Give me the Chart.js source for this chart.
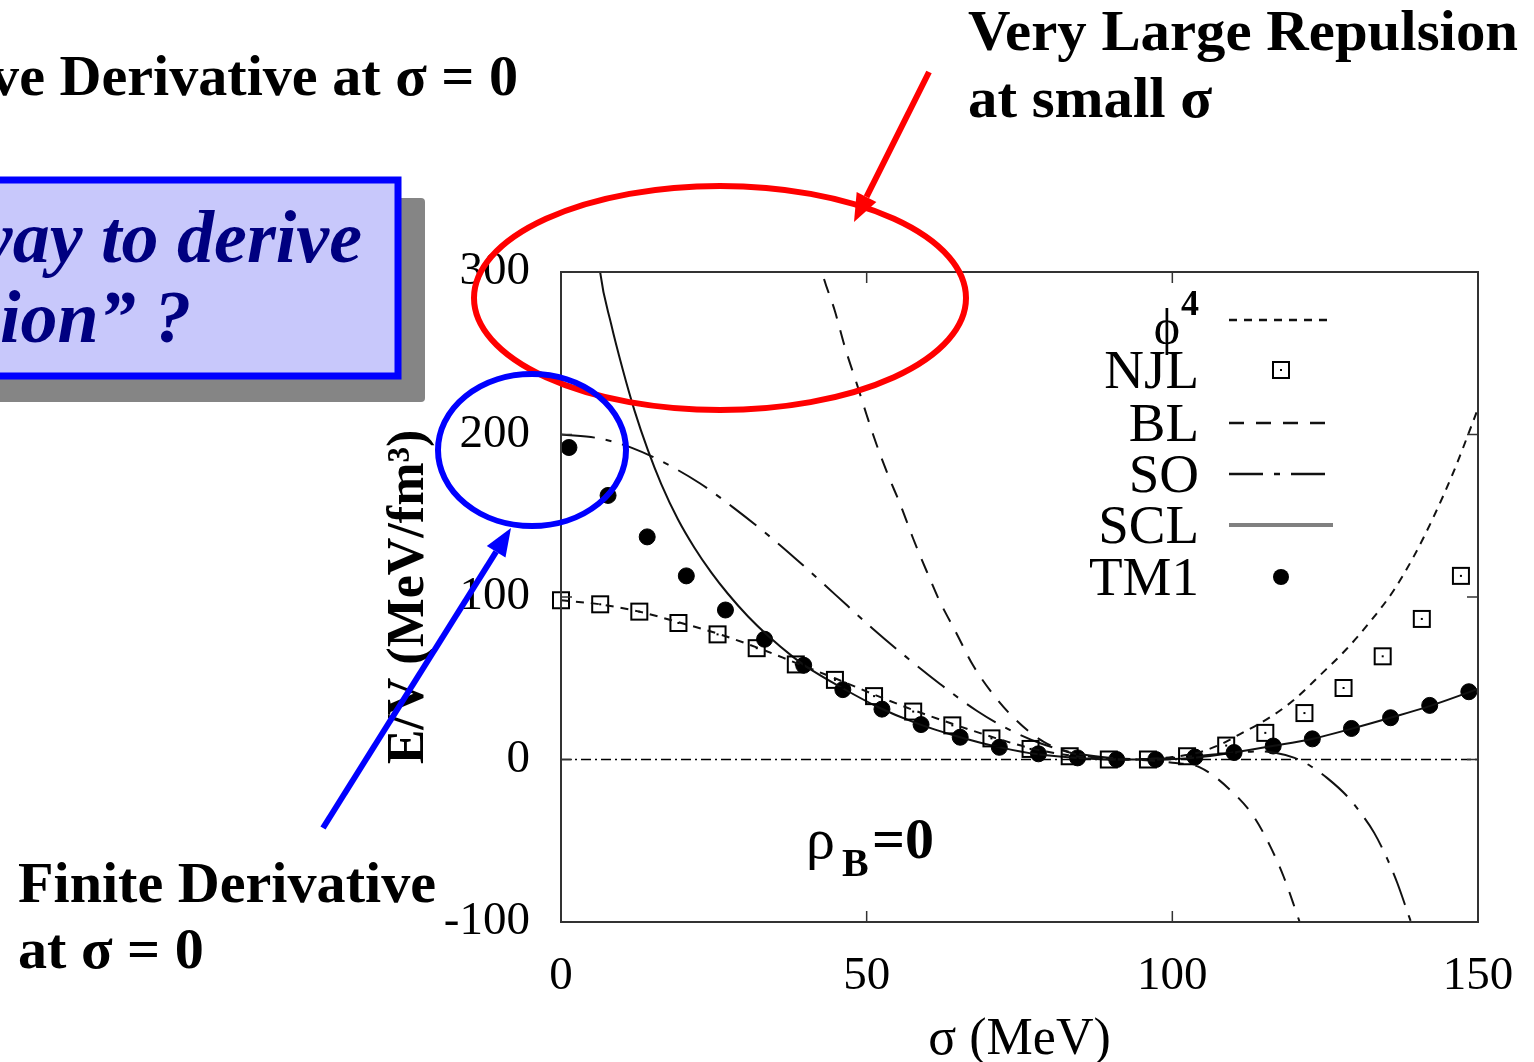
<!DOCTYPE html>
<html>
<head>
<meta charset="utf-8">
<script src="https://cdn.jsdelivr.net/npm/chart.js@4.4.1/dist/chart.umd.min.js"></script>
<style>
  html, body { margin: 0; padding: 0; background: #fff; overflow: hidden; }
  #wrap { width: 1534px; height: 1062px; position: relative; }
</style>
</head>
<body>
<div id="wrap"><canvas id="chart" width="1534" height="1062"></canvas></div>
<script>
// values: sigma in MeV, E/V in MeV/fm^3
const sigmaPhi4 = [0, 6.4, 12.8, 19.2, 25.6, 32, 38.4, 44.8, 51.2, 57.6, 64, 70.4, 76.8, 83.2, 89.6, 93, 96, 100, 104, 108, 111, 116, 120, 124.2, 128.5, 132.4, 136.2, 139.5, 142.7, 146, 149.3, 150];
const energyPhi4 = [98, 95.5, 91, 84.5, 77.5, 69, 59.5, 50, 40, 30.5, 22, 14, 7, 2.5, 0.3, 0, 0.3, 1.5, 4, 9.5, 15.5, 26, 37, 52, 68, 85, 104, 125, 149, 177, 209, 216];

const sigmaNJL = [0, 6.4, 12.8, 19.2, 25.6, 32, 38.4, 44.8, 51.2, 57.6, 64, 70.4, 76.8, 83.2, 89.6, 96, 102.4, 108.8, 115.2, 121.6, 128, 134.4, 140.8, 147.2];
const energyNJL = [98, 95.5, 91, 84, 77, 68.5, 58.5, 49, 39, 29.5, 21, 13, 6.5, 2, 0, 0, 2, 8.6, 16.4, 28.6, 44, 63.5, 86.5, 113];

const sigmaBL = [42, 42.7, 44.8, 46.5, 48.4, 50, 51.6, 53.5, 55.5, 57.6, 59.8, 62, 64.5, 67.4, 70.7, 74.5, 78.9, 84, 90, 95, 100, 104.5, 109.4, 113.3, 116, 118.2, 120.1, 121];
const energyBL = [312, 300, 276, 253, 231, 212, 194, 175, 157, 136, 116, 97, 79, 58, 40, 24, 11, 3.5, 0.5, -0.3, -2, -4.8, -18.5, -35, -53.3, -72, -92, -102];

const sigmaSO = [0, 6.4, 11.8, 16.2, 22.7, 28.2, 34.7, 39.6, 45, 51, 56.5, 62, 68, 73, 78.4, 84, 90, 95, 100, 105, 110, 114, 117, 120, 122.6, 125.3, 128.6, 130.8, 133, 135.2, 136.8, 138.7, 139.6];
const energySO = [200, 197.5, 191.5, 184, 170, 155, 135.5, 119.5, 101, 80.5, 63, 46.5, 30, 19, 10, 4, 1, 0.3, 1, 2.5, 4, 5, 4, 1, -4, -11.3, -22.6, -32.8, -45, -61.5, -76, -96.4, -106];

const sigmaSCL = [5.5, 6.4, 8.2, 10.1, 12, 14.2, 16.4, 19.1, 21.8, 24.6, 27.3, 30.6, 33.9, 38, 40, 46, 52, 58, 65, 72, 78, 85, 91, 97, 104, 110, 116.6, 123, 129.4, 135.8, 142.2, 148.6, 150];
const energySCL = [335, 300, 268, 240, 215, 190.5, 169.5, 148, 130.5, 115, 102, 88, 76, 63, 57.5, 44, 32, 22.5, 14, 7.3, 3.2, 0.8, 0, 0, 1.3, 4.3, 8.4, 12.8, 19, 25.8, 33, 41.5, 43.5];

const sigmaTM1 = [1.3, 7.7, 14.1, 20.5, 26.9, 33.3, 39.7, 46.1, 52.5, 58.9, 65.3, 71.7, 78.1, 84.5, 90.9, 97.3, 103.7, 110.1, 116.5, 122.9, 129.3, 135.7, 142.1, 148.5];
const energyTM1 = [192, 162.5, 137, 113, 92, 74, 58, 43, 31, 21.5, 13.7, 7.5, 3.5, 1, 0, 0, 1.5, 4.3, 8.3, 12.7, 19.1, 25.7, 33.3, 41.7];

const zeroLine = [{x: 0, y: 0}, {x: 150, y: 0}];
const xTicks = [0, 50, 100, 150];
const yTicks = [-100, 0, 100, 200, 300];
const seriesNames = ['ϕ', 'NJL', 'BL', 'SO', 'SCL', 'TM1'];

const pts = (xs, ys) => xs.map((x, i) => ({x: x, y: ys[i]}));

// NJL marker: open square with a dot in the middle
const squareMark = document.createElement('canvas');
squareMark.width = 20; squareMark.height = 20;
(function () {
  const c = squareMark.getContext('2d');
  c.strokeStyle = '#000'; c.lineWidth = 2;
  c.strokeRect(2, 2, 16, 16);
  c.fillStyle = '#000';
  c.fillRect(9, 9, 2, 2);
})();

const serif = '"Liberation Serif", "Times New Roman", serif';

function curve(label, data, dash) {
  return {
    label: label, data: data, borderColor: '#111', borderWidth: 2, borderDash: dash,
    pointRadius: 0, cubicInterpolationMode: 'monotone', fill: false
  };
}

const datasets = [
  curve('φ4', pts(sigmaPhi4, energyPhi4), [8, 7]),
  { label: 'NJL', data: pts(sigmaNJL, energyNJL), showLine: false, pointStyle: squareMark, pointRadius: 10, clip: false },
  curve('BL', pts(sigmaBL, energyBL), [15, 12]),
  curve('SO', pts(sigmaSO, energySO), [34, 11, 6, 11]),
  curve('SCL', pts(sigmaSCL, energySCL), []),
  { label: 'TM1', data: pts(sigmaTM1, energyTM1), showLine: false, pointStyle: 'circle', pointRadius: 8,
    backgroundColor: '#000', borderColor: '#000', clip: false },
  { label: 'zero', data: zeroLine, borderColor: '#000', borderWidth: 1.5, borderDash: [10, 4, 2, 4], pointRadius: 0 }
];

function fitText(ctx, text, x, y, font, width, align, sx) {
  ctx.font = font;
  const w = ctx.measureText(text).width;
  const s = sx || (width ? width / w : 1);
  ctx.save();
  ctx.translate(x, y);
  ctx.scale(s, 1);
  ctx.textAlign = align || 'left';
  ctx.textBaseline = 'alphabetic';
  ctx.fillText(text, 0, 0);
  ctx.restore();
  return s;
}

function arrow(ctx, x0, y0, x1, y1, color) {
  const a = Math.atan2(y1 - y0, x1 - x0);
  const hl = 28, hw = 11;
  const bx = x1 - hl * Math.cos(a), by = y1 - hl * Math.sin(a);
  ctx.strokeStyle = color; ctx.fillStyle = color; ctx.lineWidth = 6; ctx.lineCap = 'butt';
  ctx.beginPath(); ctx.moveTo(x0, y0); ctx.lineTo(bx, by); ctx.stroke();
  ctx.beginPath();
  ctx.moveTo(x1, y1);
  ctx.lineTo(bx + hw * Math.sin(a), by - hw * Math.cos(a));
  ctx.lineTo(bx - hw * Math.sin(a), by + hw * Math.cos(a));
  ctx.closePath(); ctx.fill();
}

const framePlugin = {
  id: 'frame',
  afterDatasetsDraw(chart) {
    const {ctx, chartArea: a, scales: {x, y}} = chart;
    ctx.save();
    ctx.strokeStyle = '#333'; ctx.lineWidth = 2; ctx.setLineDash([]);
    ctx.strokeRect(a.left, a.top, a.right - a.left, a.bottom - a.top);
    ctx.lineWidth = 1.5;
    ctx.beginPath();
    xTicks.forEach(v => {
      const px = x.getPixelForValue(v);
      ctx.moveTo(px, a.bottom); ctx.lineTo(px, a.bottom - 11);
      ctx.moveTo(px, a.top); ctx.lineTo(px, a.top + 11);
    });
    yTicks.forEach(v => {
      const py = y.getPixelForValue(v);
      ctx.moveTo(a.left, py); ctx.lineTo(a.left + 11, py);
      ctx.moveTo(a.right, py); ctx.lineTo(a.right - 11, py);
    });
    ctx.stroke();

    // key, right-aligned labels with samples to the right
    const ds = chart.data.datasets;
    const rows = [320, 370, 423, 474, 525, 577];
    ctx.fillStyle = '#000';
    ctx.font = '55px ' + serif;
    ctx.textAlign = 'right'; ctx.textBaseline = 'alphabetic';
    seriesNames.forEach((name, i) => {
      const yy = rows[i];
      if (i === 0) {
        ctx.font = '50px ' + serif;
        ctx.fillText(name, 1180, yy + 24);
        ctx.font = 'bold 36px ' + serif;
        ctx.fillText('4', 1199, yy - 5);
        ctx.font = '55px ' + serif;
      } else {
        ctx.fillText(name, 1199, yy + 18);
      }
      const d = ds[i];
      if (d.showLine === false) {
        if (d.pointStyle === 'circle') {
          ctx.beginPath(); ctx.arc(1281, yy, 8, 0, Math.PI * 2); ctx.fill();
        } else {
          ctx.drawImage(squareMark, 1271, yy - 10);
        }
      } else {
        ctx.save();
        ctx.strokeStyle = name === 'SCL' ? '#808080' : '#111';
        ctx.lineWidth = name === 'SCL' ? 4 : 2.5;
        ctx.setLineDash(d.borderDash);
        ctx.beginPath(); ctx.moveTo(1229, yy); ctx.lineTo(1333, yy); ctx.stroke();
        ctx.restore();
      }
    });

    // rho_B = 0 label inside the plot
    ctx.textAlign = 'left';
    ctx.font = '58px ' + serif;
    ctx.fillText('ρ', 806, 858);
    ctx.font = 'bold 40px ' + serif;
    ctx.fillText('B', 842, 876);
    ctx.font = 'bold 58px ' + serif;
    ctx.fillText('=0', 872, 858);
    ctx.restore();
  },
  afterDraw(chart) {
    const ctx = chart.ctx;
    ctx.save();
    ctx.setLineDash([]);
    // slide callout box with shadow
    ctx.fillStyle = '#858585';
    ctx.beginPath(); ctx.roundRect(-20, 198, 445, 204, 4); ctx.fill();
    ctx.fillStyle = '#c8c8fb';
    ctx.fillRect(-20, 180, 418, 196);
    ctx.strokeStyle = '#0000ff'; ctx.lineWidth = 7;
    ctx.strokeRect(-20, 180, 418, 196);
    ctx.fillStyle = '#000080';
    fitText(ctx, 'way to derive', 362, 262, 'italic bold 74px ' + serif, 0, 'right');
    fitText(ctx, 'ion” ?', 0, 342, 'italic bold 74px ' + serif, 0, 'left');

    // black slide text
    ctx.fillStyle = '#000';
    const s = fitText(ctx, 'Finite Derivative', 18, 902, 'bold 56px ' + serif, 418, 'left');
    fitText(ctx, 'at σ = 0', 18, 968, 'bold 56px ' + serif, 0, 'left', s);
    fitText(ctx, 've Derivative at σ = 0', 518, 95, 'bold 56px ' + serif, 0, 'right', s);
    const s2 = fitText(ctx, 'Very Large Repulsion', 968, 50, 'bold 56px ' + serif, 550, 'left');
    fitText(ctx, 'at small σ', 968, 117, 'bold 56px ' + serif, 0, 'left', s2);

    // highlight ellipses
    ctx.lineWidth = 6;
    ctx.strokeStyle = '#ff0000';
    ctx.beginPath(); ctx.ellipse(720, 298, 246, 112, 0, 0, Math.PI * 2); ctx.stroke();
    ctx.strokeStyle = '#0000ff';
    ctx.beginPath(); ctx.ellipse(532, 450, 94, 76, 0, 0, Math.PI * 2); ctx.stroke();

    arrow(ctx, 929, 72, 854, 222, '#ff0000');
    arrow(ctx, 323, 828, 511, 528, '#0000ff');
    ctx.restore();
  }
};

new Chart(document.getElementById('chart'), {
  type: 'line',
  data: { datasets: datasets },
  options: {
    responsive: false,
    animation: false,
    devicePixelRatio: 1,
    layout: { padding: { left: 0, top: 272, right: 56, bottom: 0 } },
    plugins: { legend: { display: false }, tooltip: { enabled: false } },
    scales: {
      x: {
        type: 'linear', min: 0, max: 150,
        afterFit: s => { s.height = 140; s.paddingLeft = 0; s.paddingRight = 0; },
        afterBuildTicks: s => { s.ticks = xTicks.map(v => ({value: v})); },
        grid: { display: false, drawTicks: false },
        border: { display: false },
        ticks: { color: '#000', padding: 26, font: { family: serif, size: 47 }, maxRotation: 0 },
        title: { display: true, text: 'σ (MeV)', color: '#000', padding: 0,
                 font: { family: serif, size: 52, lineHeight: 0.85 } }
      },
      y: {
        type: 'linear', min: -100, max: 300,
        afterFit: s => { s.width = 561; s.paddingTop = 0; s.paddingBottom = 0; },
        afterBuildTicks: s => { s.ticks = yTicks.map(v => ({value: v})); },
        grid: { display: false, drawTicks: false },
        border: { display: false },
        ticks: { color: '#000', padding: 31, font: { family: serif, size: 47 } },
        title: { display: true, text: 'E/V (MeV/fm³)', color: '#000', padding: { top: 384, bottom: 0 },
                 font: { family: serif, size: 52, weight: 'bold', lineHeight: 1 } }
      }
    }
  },
  plugins: [framePlugin]
});
</script>
</body>
</html>
